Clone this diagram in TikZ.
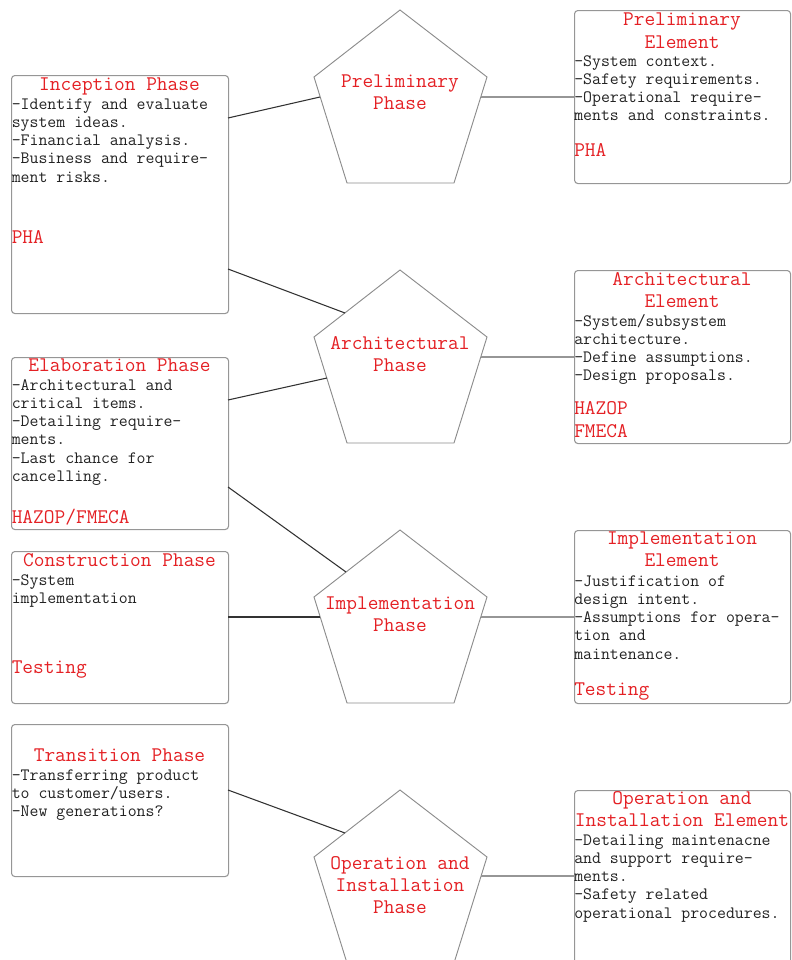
\documentclass[tikz,border=0pt]{standalone}
\usepackage{fontspec}
\definecolor{txtred}{RGB}{228,32,36}
\definecolor{txtdark}{RGB}{34,34,34}
\definecolor{boxgray}{RGB}{150,150,150}
\definecolor{pentgray}{RGB}{140,140,140}
\definecolor{lineleft}{RGB}{50,50,50}
\definecolor{lineright}{RGB}{150,150,150}
\tikzset{
  boxnode/.style={draw=boxgray, line width=0.8pt, rounded corners=2.5pt, inner sep=0pt, anchor=north west},
  pent/.style={draw=pentgray, line width=0.7pt},
  titletxt/.style={text=txtred, font=\ttfamily\fontsize{15.6}{18}\selectfont, inner sep=0pt, anchor=base},
  tooltxt/.style={text=txtred, font=\ttfamily\fontsize{15.6}{18}\selectfont, inner sep=0pt, anchor=base west},
  bodytxt/.style={text=txtdark, font=\ttfamily\fontsize{13}{15}\selectfont, inner sep=0pt, anchor=base west},
  leftcon/.style={draw=lineleft, line width=0.8pt},
  rightcon/.style={draw=lineright, line width=0.8pt}
}
% \bodylines{name}{x}{first baseline}{list}
\newcommand{\bodylines}[4]{%
  \foreach \t [count=\i] in {#4} {
    \node[bodytxt] (#1\i) at ({#2},{#3+(\i-1)*18.3}) {\t};
  }%
}
% \titlelines{name}{x}{first baseline}{list}
\newcommand{\titlelines}[4]{%
  \foreach \t [count=\i] in {#4} {
    \node[titletxt] (#1\i) at ({#2},{#3+(\i-1)*22}) {\t};
  }%
}
% pentagon: \pentagon{name}{top y}
\newcommand{\pentagon}[2]{%
  \coordinate (#1top) at (400,#2);
  \coordinate (#1r) at (487,{#2+67});
  \coordinate (#1br) at (454,{#2+173});
  \coordinate (#1bl) at (347,{#2+173});
  \coordinate (#1l) at (314,{#2+67});
  \draw[pent] (#1top) -- (#1r) -- (#1br) -- (#1bl) -- (#1l) -- cycle;
}
\begin{document}
\begin{tikzpicture}[x=0.75pt, y=-0.75pt]
\useasboundingbox (0,0) rectangle (792,960);
\clip (0,0) rectangle (792,960);

% ---------- pentagons ----------
\pentagon{pp}{10}
\pentagon{pa}{270}
\pentagon{pi}{530}
\pentagon{po}{790}

\titlelines{ppt}{400}{87}{{Preliminary},{Phase}}
\titlelines{pat}{400}{349}{{Architectural},{Phase}}
\titlelines{pit}{400}{609}{{Implementation},{Phase}}
\titlelines{pot}{400}{869}{{Operation and},{Installation},{Phase}}

% ---------- left boxes ----------
\node[boxnode, minimum width=162.75pt, minimum height=178.5pt] (inc) at (11,75) {};
\node[boxnode, minimum width=162.75pt, minimum height=129pt] (ela) at (11,357) {};
\node[boxnode, minimum width=162.75pt, minimum height=114pt] (con) at (11,551) {};
\node[boxnode, minimum width=162.75pt, minimum height=114pt] (tra) at (11,724) {};

% ---------- right boxes ----------
\node[boxnode, minimum width=162pt, minimum height=129.75pt] (pre) at (574,10) {};
\node[boxnode, minimum width=162pt, minimum height=129.75pt] (arc) at (574,270) {};
\node[boxnode, minimum width=162pt, minimum height=129.75pt] (imp) at (574,530) {};
\node[boxnode, minimum width=162pt, minimum height=129.75pt] (ope) at (574,790) {};

% ---------- left box texts ----------
\titlelines{inct}{119.5}{90}{{Inception Phase}}
\bodylines{incb}{11.5}{109}{{-Identify and evaluate},{system ideas.},{-Financial analysis.},{-Business and require-},{ment risks.}}
\node[tooltxt] (inctool) at (11.5,243) {PHA};

\titlelines{elat}{119.5}{371}{{Elaboration Phase}}
\bodylines{elab}{11.5}{390}{{-Architectural and},{critical items.},{-Detailing require-},{ments.},{-Last chance for},{cancelling.}}
\node[tooltxt] (elatool) at (11.5,523) {HAZOP/FMECA};

\titlelines{cont}{119.5}{566}{{Construction Phase}}
\bodylines{conb}{11.5}{585}{{-System},{implementation}}
\node[tooltxt] (contool) at (11.5,673) {Testing};

\titlelines{trat}{119.5}{761}{{Transition Phase}}
\bodylines{trab}{11.5}{780}{{-Transferring product},{to customer/users.},{-New generations?}}

% ---------- right box texts ----------
\titlelines{pret}{682}{26}{{Preliminary},{Element}}
\bodylines{preb}{574}{66}{{-System context.},{-Safety requirements.},{-Operational require-},{ments and constraints.}}
\node[tooltxt] (pretool) at (574,156) {PHA};

\titlelines{arct}{682}{285}{{Architectural},{Element}}
\bodylines{arcb}{574}{326}{{-System/subsystem},{architecture.},{-Define assumptions.},{-Design proposals.}}
\node[tooltxt] (arctoola) at (574,414) {HAZOP};
\node[tooltxt] (arctoolb) at (574,437) {FMECA};

\titlelines{impt}{682}{544}{{Implementation},{Element}}
\bodylines{impb}{574}{586}{{-Justification of},{design intent.},{-Assumptions for opera-},{tion and},{maintenance.}}
\node[tooltxt] (imptool) at (574,695) {Testing};

\titlelines{opet}{682}{804}{{Operation and},{Installation Element}}
\bodylines{opeb}{574}{845}{{-Detailing maintenacne},{and support require-},{ments.},{-Safety related},{operational procedures.}}

% ---------- connector end points ----------
\coordinate (c1a) at (228,118);  \coordinate (c1b) at (320,97);
\coordinate (c2a) at (228,269);  \coordinate (c2b) at (345,313);
\coordinate (c3a) at (228,400);  \coordinate (c3b) at (327,378);
\coordinate (c4a) at (228,487);  \coordinate (c4b) at (346,572);
\coordinate (c5a) at (228,617);  \coordinate (c5b) at (320,617);
\coordinate (c6a) at (228,790);  \coordinate (c6b) at (345,833);

\coordinate (r1a) at (481,97);   \coordinate (r1b) at (574,97);
\coordinate (r2a) at (481,357);  \coordinate (r2b) at (574,357);
\coordinate (r3a) at (481,617);  \coordinate (r3b) at (574,617);
\coordinate (r4a) at (481,876);  \coordinate (r4b) at (574,876);

\draw[leftcon] (c1a) -- (c1b);
\draw[leftcon] (c2a) -- (c2b);
\draw[leftcon] (c3a) -- (c3b);
\draw[leftcon] (c4a) -- (c4b);
\draw[leftcon] (c5a) -- (c5b);
\draw[leftcon] (c6a) -- (c6b);

\draw[rightcon] (r1a) -- (r1b);
\draw[rightcon] (r2a) -- (r2b);
\draw[rightcon] (r3a) -- (r3b);
\draw[rightcon] (r4a) -- (r4b);
\end{tikzpicture}
\end{document}
